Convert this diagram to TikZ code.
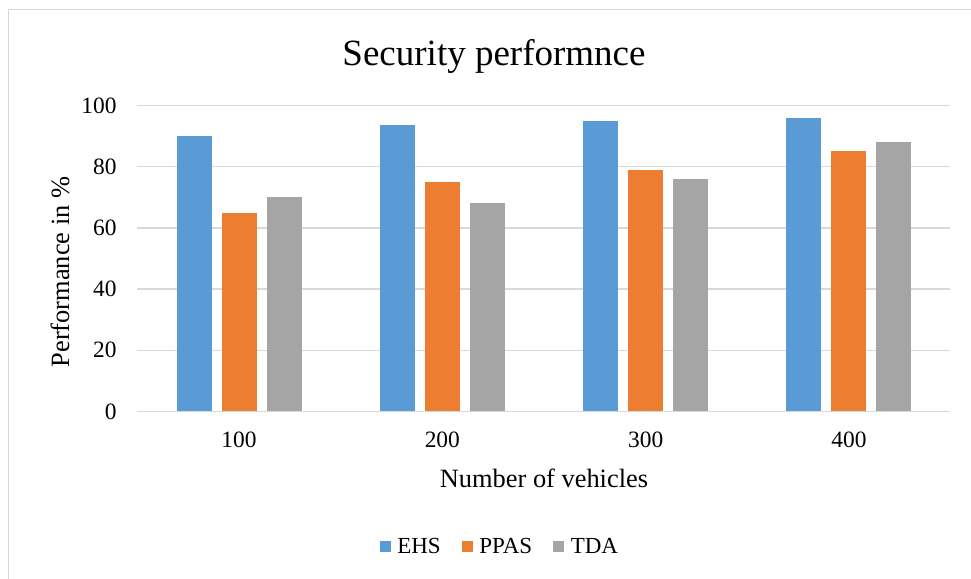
\documentclass[tikz,border=0pt]{standalone}
\usepackage{fontspec}
\setmainfont{Liberation Serif}
\usetikzlibrary{positioning}
\definecolor{ehsblue}{HTML}{5B9BD5}
\definecolor{ppasorange}{HTML}{ED7D31}
\definecolor{tdagray}{HTML}{A5A5A5}
\definecolor{gridgray}{HTML}{D9D9D9}
\tikzstyle{gridline} = [draw=gridgray, line width=0.75pt]
\tikzstyle{ticklabel} = [font=\fontsize{11.7}{14}\selectfont, inner sep=0pt]
\tikzstyle{axistitle} = [font=\fontsize{13.2}{16}\selectfont, inner sep=0pt]
\tikzstyle{key} = [rectangle, minimum size=5.5pt, inner sep=0pt]
\tikzstyle{keytext} = [font=\fontsize{11.5}{14}\selectfont, inner sep=0pt]

\begin{document}
\begin{tikzpicture}[x=0.5pt, y=-0.5pt, node distance=3pt]
\useasboundingbox (0,0) rectangle (971,579);
% chart frame
\draw [gridgray, line width=0.75pt] (971,9.5) -- (8.5,9.5) -- (8.5,579);
\node (title) [font=\fontsize{18.5}{22}\selectfont, anchor=base] at (494,65) {Security performnce};

% plot area, y in percent
\begin{scope}[yshift=-205.75pt, y=1.53pt]
\foreach \g in {0,20,...,100} {
  \draw [gridline] (137,\g) -- (950,\g);
  \node (tick\g) [ticklabel, anchor=east] at (117,\g) {\g};
}
\foreach \i/\a/\b/\c in {0/90/65/70, 1/93.5/75/68, 2/95/79/76, 3/96/85/88} {
  \pgfmathsetmacro\cx{239+203.33*\i}
  \fill [ehsblue] (\cx-62.5,0) rectangle (\cx-27.5,\a);
  \fill [ppasorange] (\cx-17.5,0) rectangle (\cx+17.5,\b);
  \fill [tdagray] (\cx+27.5,0) rectangle (\cx+62.5,\c);
}
\draw [gridline] (137,0) -- (950,0);
\end{scope}

% category labels
\foreach \i/\v in {0/100, 1/200, 2/300, 3/400}
  \node (cat\v) [ticklabel] at (239+203.33*\i,440) {\v};

\node (xtitle) [axistitle] at (544,478) {Number of vehicles};
\node (ytitle) [axistitle, rotate=90] at (60,272) {Performance in \%};

% legend
\node (keyehs) [key, fill=ehsblue] at (385,546.2) {};
\node (txtehs) [keytext, right=of keyehs] {EHS};
\node (keyppas) [key, fill=ppasorange, right=10pt of txtehs] {};
\node (txtppas) [keytext, right=of keyppas] {PPAS};
\node (keytda) [key, fill=tdagray, right=10pt of txtppas] {};
\node (txttda) [keytext, right=of keytda] {TDA};
\end{tikzpicture}
\end{document}
